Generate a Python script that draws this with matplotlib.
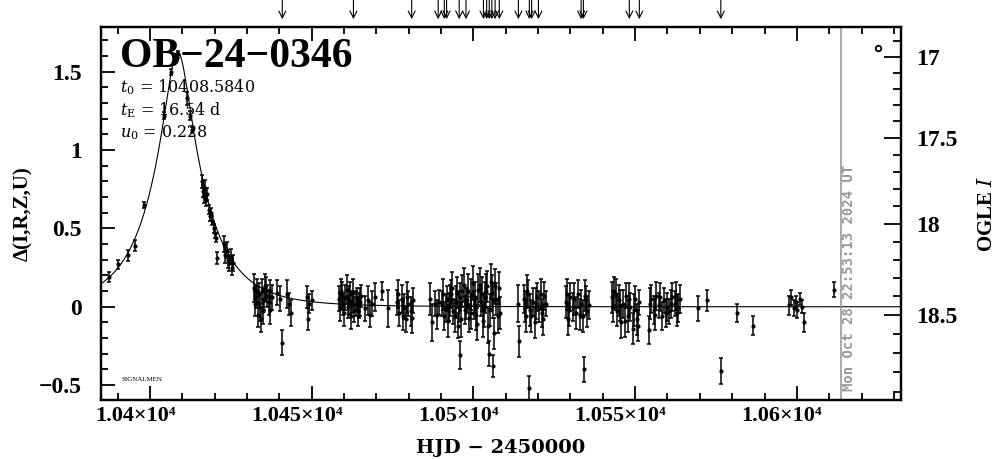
import numpy as np
import matplotlib
matplotlib.use("Agg")
import matplotlib.pyplot as plt
import matplotlib.transforms as mtransforms
from matplotlib.ticker import MultipleLocator, FixedLocator, FuncFormatter

plt.rcParams['font.family'] = ['Liberation Serif', 'DejaVu Serif']
plt.rcParams['mathtext.fontset'] = 'dejavuserif'

# event parameters (shown on the plot)
event_name = "OB\u221224\u22120346"
t0 = 10408.5840
tE = 16.54
u0 = 0.228

# photometry: HJD-2450000, delta mag, error
hjd = [10387.3, 10390.2, 10393.3, 10395.4, 10398.2,
       10404.2, 10406.5, 10408.75, 10411.3, 10412.4, 10412.9,
       10416.0, 10416.3, 10416.6, 10416.9, 10417.2, 10417.5,
       10418.1, 10418.5, 10418.9, 10419.3, 10419.7, 10420.1, 10420.5, 10420.6,
       10423.0, 10423.3, 10423.7, 10424.1, 10424.5, 10424.9, 10425.3, 10425.7,
       10432.3, 10432.8, 10433.3, 10433.8, 10434.3, 10434.7, 10435.2, 10435.7,
       10436.2, 10436.7, 10437.2, 10437.7, 10439.3, 10440.1, 10440.7,
       10442.3, 10442.9, 10443.5, 10448.5, 10449.0, 10449.3, 10450.2,
       10458.3, 10459.0, 10459.7, 10460.4, 10461.1, 10461.8, 10462.5, 10463.2,
       10463.9, 10464.6, 10465.3, 10466.6, 10467.3, 10468.0, 10468.7, 10469.5,
       10471.7, 10473.7, 10476.4, 10477.1, 10477.8, 10478.5, 10479.2, 10479.9,
       10480.6, 10481.3, 10486.6, 10487.3, 10488.0, 10488.7, 10489.4,
       10490.3, 10491.0, 10491.7, 10492.4, 10493.1, 10493.8, 10494.5, 10495.2,
       10495.9, 10496.6, 10497.3, 10498.0, 10498.7, 10499.4, 10500.1, 10500.8,
       10501.5, 10502.2, 10502.9, 10503.6, 10504.3, 10505.0, 10505.7, 10506.4,
       10507.1, 10507.8, 10508.3, 10495.9, 10504.7, 10505.9,
       10513.9, 10514.0, 10515.5, 10516.2, 10516.9, 10517.6, 10518.3, 10519.0,
       10519.7, 10520.4, 10521.1, 10521.8, 10522.5, 10517.2,
       10528.5, 10529.2, 10530.0, 10530.8, 10531.6, 10532.4, 10533.2, 10534.0,
       10534.8, 10535.6, 10534.2,
       10542.9, 10543.6, 10544.3, 10545.0, 10545.7, 10546.4, 10547.1, 10547.8,
       10548.5, 10549.2, 10549.9, 10550.6, 10551.3,
       10554.2, 10555.0, 10555.8, 10556.6, 10557.4, 10558.2, 10559.0, 10559.8,
       10560.6, 10561.4, 10562.2, 10563.0, 10563.8,
       10569.5, 10572.3, 10576.4, 10581.6, 10586.5,
       10597.5, 10598.3, 10599.0, 10599.6, 10600.2, 10600.9, 10601.5, 10602.3,
       10611.5,
       10432.5, 10433.0, 10434.0, 10435.0, 10436.0, 10437.0,
       10458.6, 10459.4, 10460.0, 10460.8, 10461.5, 10462.2, 10462.9, 10463.6,
       10464.3, 10465.0, 10476.8, 10478.1, 10479.6, 10480.9,
       10490.6, 10491.4, 10492.1, 10492.8, 10493.5, 10494.2, 10494.9, 10495.6,
       10496.3, 10497.0, 10497.7, 10498.4, 10499.1, 10499.8, 10500.5, 10501.2,
       10501.9, 10502.6, 10503.3, 10504.0, 10504.6, 10505.3, 10506.0, 10506.8,
       10507.5,
       10515.8, 10516.6, 10517.9, 10519.3, 10520.8, 10521.5,
       10528.9, 10529.6, 10531.2, 10532.8, 10534.4, 10535.2,
       10543.2, 10544.0, 10545.4, 10546.8, 10548.1, 10549.6, 10551.0,
       10554.6, 10556.2, 10557.8, 10559.4, 10561.0, 10562.6, 10563.4]
dmag = [0.19, 0.27, 0.33, 0.39, 0.65,
        1.22, 1.50, 1.61, 1.33, 1.22, 1.13,
        0.80, 0.74, 0.70, 0.76, 0.68, 0.72,
        0.62, 0.58, 0.60, 0.55, 0.50, 0.47, 0.44, 0.31,
        0.40, 0.33, 0.36, 0.30, 0.28, 0.32, 0.25, 0.28,
        0.12, 0.06, -0.05, 0.08, -0.08, 0.10, 0.05, 0.13,
        0.07, 0.03, 0.10, 0.06, 0.09, 0.05, -0.23,
        0.08, 0.02, -0.04, 0.06, -0.08, 0.02, 0.04,
        0.05, 0.10, 0.02, 0.06, 0.00, 0.08, 0.03, -0.02,
        0.05, 0.01, 0.07, -0.01, 0.04, -0.05, 0.02, 0.06,
        0.10, -0.01, 0.03, -0.04, 0.05, 0.00, -0.08, 0.02,
        -0.03, 0.04, 0.05, -0.10, 0.02, -0.05, 0.03,
        0.02, -0.06, 0.05, 0.00, 0.08, -0.03, 0.03, -0.12,
        0.06, 0.10, -0.02, 0.04, -0.07, 0.08, 0.01, -0.05,
        0.11, 0.03, -0.09, 0.06, 0.13, -0.02, 0.09, -0.17,
        0.05, 0.12, -0.04, -0.31, -0.30, -0.38,
        0.02, -0.22, 0.05, -0.06, 0.08, -0.02, 0.03, -0.10,
        0.06, 0.00, -0.04, 0.07, 0.02, -0.52,
        0.03, -0.08, 0.06, 0.00, -0.04, 0.08, 0.02, -0.06,
        0.04, 0.01, -0.40,
        0.06, 0.10, -0.03, 0.04, -0.10, 0.02, 0.07, -0.06,
        0.00, -0.14, 0.05, -0.08, 0.03,
        -0.15, 0.05, -0.02, 0.07, 0.01, -0.06, 0.04, 0.00,
        -0.03, 0.06, 0.02, -0.04, 0.05,
        -0.01, 0.04, -0.41, -0.04, -0.12,
        0.01, 0.06, -0.01, 0.03, -0.02, 0.05, 0.00, -0.10,
        0.11,
        0.02, 0.10, 0.00, -0.03, 0.11, -0.02,
        0.00, 0.07, -0.04, 0.11, 0.04, -0.06, 0.09, 0.02,
        -0.03, 0.03, 0.08, -0.06, 0.06, -0.07,
        0.08, -0.01, -0.09, 0.04, 0.12, -0.06, 0.09, 0.00,
        -0.08, 0.14, 0.02, 0.10, -0.04, 0.15, 0.06, -0.11,
        0.14, 0.08, -0.02, 0.10, -0.12, 0.16, 0.04, 0.13,
        -0.06,
        0.00, 0.10, -0.06, 0.02, 0.08, -0.08,
        0.08, -0.02, 0.05, -0.05, 0.07, -0.03,
        0.00, 0.08, 0.01, -0.09, 0.05, -0.02, -0.12,
        0.02, -0.05, 0.06, -0.04, 0.02, 0.07, -0.01]
derr = [0.03, 0.03, 0.035, 0.035, 0.02,
        0.02, 0.02, 0.02, 0.04, 0.03, 0.02,
        0.04, 0.04, 0.04, 0.05, 0.04, 0.04,
        0.03, 0.03, 0.03, 0.03, 0.03, 0.03, 0.03, 0.04,
        0.05, 0.05, 0.05, 0.05, 0.05, 0.05, 0.05, 0.05,
        0.09, 0.07, 0.08, 0.07, 0.08, 0.08, 0.07, 0.08,
        0.07, 0.08, 0.07, 0.08, 0.08, 0.08, 0.08,
        0.09, 0.07, 0.08, 0.07, 0.07, 0.06, 0.06,
        0.08, 0.08, 0.07, 0.08, 0.07, 0.08, 0.07, 0.08,
        0.07, 0.08, 0.07, 0.08, 0.09, 0.08, 0.08, 0.09,
        0.06, 0.12, 0.08, 0.08, 0.09, 0.08, 0.08, 0.08,
        0.09, 0.08, 0.10, 0.12, 0.08, 0.09, 0.08,
        0.08, 0.09, 0.08, 0.09, 0.09, 0.08, 0.10, 0.08,
        0.09, 0.10, 0.09, 0.08, 0.09, 0.10, 0.09, 0.10,
        0.10, 0.09, 0.10, 0.10, 0.10, 0.10, 0.11, 0.10,
        0.10, 0.10, 0.10, 0.09, 0.08, 0.07,
        0.12, 0.10, 0.09, 0.10, 0.09, 0.10, 0.09, 0.10,
        0.09, 0.10, 0.09, 0.09, 0.08, 0.08,
        0.10, 0.10, 0.09, 0.09, 0.10, 0.09, 0.09, 0.10,
        0.09, 0.09, 0.08,
        0.10, 0.09, 0.09, 0.10, 0.10, 0.09, 0.08, 0.10,
        0.09, 0.10, 0.08, 0.10, 0.08,
        0.09, 0.09, 0.09, 0.09, 0.08, 0.09, 0.08, 0.09,
        0.08, 0.09, 0.08, 0.08, 0.09,
        0.08, 0.07, 0.08, 0.06, 0.06,
        0.06, 0.05, 0.05, 0.04, 0.05, 0.04, 0.04, 0.06,
        0.05,
        0.08, 0.08, 0.09, 0.08, 0.08, 0.09,
        0.09, 0.09, 0.08, 0.09, 0.09, 0.08, 0.09, 0.08,
        0.09, 0.09, 0.09, 0.09, 0.10, 0.10,
        0.10, 0.09, 0.10, 0.10, 0.10, 0.10, 0.10, 0.10,
        0.11, 0.11, 0.10, 0.11, 0.10, 0.11, 0.10, 0.10,
        0.11, 0.11, 0.11, 0.11, 0.11, 0.11, 0.11, 0.11,
        0.11,
        0.10, 0.10, 0.10, 0.10, 0.10, 0.10,
        0.10, 0.10, 0.10, 0.10, 0.10, 0.10,
        0.10, 0.10, 0.10, 0.10, 0.10, 0.10, 0.10,
        0.10, 0.10, 0.09, 0.09, 0.09, 0.09, 0.09]

# alert arrows along the top
arrow_hjd = [10440.9, 10462.9, 10480.9, 10489.1, 10491.0, 10491.7, 10495.6,
             10497.7, 10503.1, 10504.1, 10504.9, 10505.7, 10506.7, 10508.0,
             10513.9, 10517.3, 10518.0, 10520.1, 10533.3, 10534.0, 10548.2,
             10551.3, 10576.5]

now_hjd = 10613.7
now_text = "Mon Oct 28 22:53:13 2024 UT"
ogle_ticks = [17, 17.5, 18, 18.5]
ogle_minor = [16.9, 17.1, 17.2, 17.3, 17.4, 17.6, 17.7, 17.8, 17.9,
              18.1, 18.2, 18.3, 18.4, 18.6, 18.7, 18.8, 18.9]


def mag_to_delta(m):
    x = np.asarray(m) - 18.0
    return 0.528 - 1.13 * x - 0.064 * x**2


def pspl(t):
    u = np.sqrt(u0**2 + ((t - t0) / tE)**2)
    A = (u**2 + 2) / (u * np.sqrt(u**2 + 4))
    return 2.5 * np.log10(A)


fig = plt.figure(figsize=(10.04, 4.59), dpi=100)
ax = fig.add_axes([0.1006, 0.1285, 0.7968, 0.8127])

xlim = (10384.85, 10632.2)
ylim = (-0.595, 1.785)

tm = np.linspace(xlim[0], xlim[1], 2000)
ax.plot(tm, pspl(tm), color='k', lw=0.8)

ax.errorbar(hjd, dmag, yerr=derr, fmt='o', ms=2, color='k', ecolor='k',
            elinewidth=1.1, capsize=1.5, capthick=1.1)

ax.axvline(now_hjd, color='#999999', lw=1.2)
ax.text(now_hjd + 2.4, -0.54, now_text, rotation=90, ha='center', va='bottom',
        fontsize=10, color='#999999', family='DejaVu Sans Mono', weight='bold')

ax.plot([10625], [1.65], 'o', mfc='white', mec='k', ms=4, mew=1.3)

for d in arrow_hjd:
    ax.annotate('', xy=(d, 1.021), xycoords=ax.get_xaxis_transform(),
                xytext=(d, 1.075), textcoords=ax.get_xaxis_transform(),
                arrowprops=dict(arrowstyle='->,head_length=0.5,head_width=0.25',
                                lw=0.8, color='k', shrinkA=0, shrinkB=0),
                annotation_clip=False)

ax.text(0.024, 0.92, event_name, transform=ax.transAxes, fontsize=30,
        weight='bold', va='center', ha='left')
pfont = dict(transform=ax.transAxes, fontsize=11.5, va='center',
             family='DejaVu Serif')
ax.text(0.024, 0.839, r'$t_0$ = %.4f' % t0, **pfont)
ax.text(0.024, 0.777, r'$t_{\rm E}$ = %.2f d' % tE, **pfont)
ax.text(0.024, 0.716, r'$u_0$ = %.3f' % u0, **pfont)
ax.text(0.026, 0.054, 'SIGNALMEN', transform=ax.transAxes, fontsize=5,
        va='center')

ax.set_xlim(*xlim)
ax.set_ylim(*ylim)
ax.xaxis.set_major_locator(MultipleLocator(50))
ax.xaxis.set_minor_locator(MultipleLocator(10))
ax.yaxis.set_major_locator(MultipleLocator(0.5))
ax.yaxis.set_minor_locator(MultipleLocator(0.1))


def sci(v, pos):
    return '%g\u00d710\u2074' % (v / 1e4)


ax.xaxis.set_major_formatter(FuncFormatter(sci))
ax.yaxis.set_major_formatter(FuncFormatter(lambda v, p: ('%g' % v).replace('-', '\u2212')))
ax.tick_params(which='both', direction='in', top=True, right=False, width=1.3)
ax.tick_params(which='major', length=10, labelsize=16)
ax.tick_params(which='minor', length=5)
ax.tick_params(axis='y', pad=14, labelsize=17)
ax.tick_params(axis='x', pad=4)
shift = mtransforms.ScaledTranslation(-15 / 100, 0, fig.dpi_scale_trans)
for lab in ax.get_xticklabels():
    lab.set_fontweight('bold')
    lab.set_transform(lab.get_transform() + shift)
for lab in ax.get_yticklabels():
    lab.set_fontweight('bold')
for s in ax.spines.values():
    s.set_linewidth(1.6)

ax.set_xlabel('HJD \u2212 2450000', fontsize=14, weight='bold', labelpad=10,
              family='DejaVu Serif')
ax.set_ylabel('\u0394(I,R,Z,U)', fontsize=15, weight='bold', labelpad=4)

ax2 = ax.twinx()
ax2.set_ylim(*ylim)
ax2.yaxis.set_major_locator(FixedLocator(mag_to_delta(ogle_ticks)))
ax2.yaxis.set_minor_locator(FixedLocator(mag_to_delta(ogle_minor)))
ax2.set_yticklabels(['%g' % m for m in ogle_ticks], fontweight='bold')
ax2.tick_params(which='both', direction='in', width=1.3, labelsize=17, pad=11)
ax2.tick_params(which='major', length=12)
ax2.tick_params(which='minor', length=6)
ax2.set_ylabel(r'OGLE $\mathit{I}$', fontsize=15, weight='bold', labelpad=14)
for s in ax2.spines.values():
    s.set_linewidth(1.6)

fig.savefig('out.png', dpi=100)
